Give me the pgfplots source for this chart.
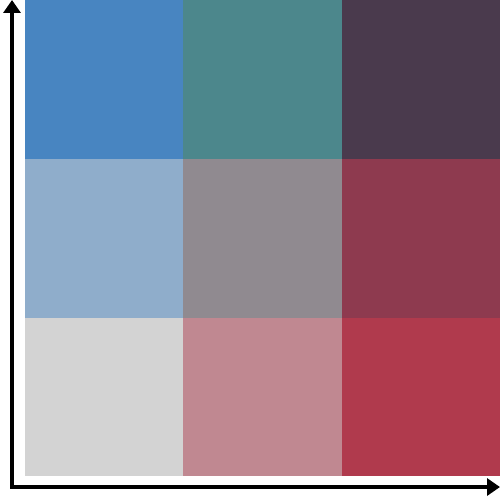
\documentclass[border=0pt]{standalone}
\usepackage{pgfplots}
\pgfplotsset{compat=1.18}
\usetikzlibrary{arrows.meta}
\definecolor{c11}{RGB}{211,211,211}
\definecolor{c21}{RGB}{192,136,145}
\definecolor{c31}{RGB}{176,58,77}
\definecolor{c12}{RGB}{143,173,203}
\definecolor{c22}{RGB}{144,138,144}
\definecolor{c32}{RGB}{142,58,79}
\definecolor{c13}{RGB}{72,133,193}
\definecolor{c23}{RGB}{76,135,140}
\definecolor{c33}{RGB}{74,58,77}
\begin{document}
\begin{tikzpicture}
\begin{axis}[
  width=475pt, height=475pt, scale only axis,
  xmin=0, xmax=3, ymin=0, ymax=3,
  axis lines=none, clip=false,
]
\addplot[fill=c11, draw=c11, line width=0.3pt] coordinates {(0,0)(1,0)(1,1)(0,1)} -- cycle;
\addplot[fill=c21, draw=c21, line width=0.3pt] coordinates {(1,0)(2,0)(2,1)(1,1)} -- cycle;
\addplot[fill=c31, draw=c31, line width=0.3pt] coordinates {(2,0)(3,0)(3,1)(2,1)} -- cycle;
\addplot[fill=c12, draw=c12, line width=0.3pt] coordinates {(0,1)(1,1)(1,2)(0,2)} -- cycle;
\addplot[fill=c22, draw=c22, line width=0.3pt] coordinates {(1,1)(2,1)(2,2)(1,2)} -- cycle;
\addplot[fill=c32, draw=c32, line width=0.3pt] coordinates {(2,1)(3,1)(3,2)(2,2)} -- cycle;
\addplot[fill=c13, draw=c13, line width=0.3pt] coordinates {(0,2)(1,2)(1,3)(0,3)} -- cycle;
\addplot[fill=c23, draw=c23, line width=0.3pt] coordinates {(1,2)(2,2)(2,3)(1,3)} -- cycle;
\addplot[fill=c33, draw=c33, line width=0.3pt] coordinates {(2,2)(3,2)(3,3)(2,3)} -- cycle;
\addplot[black, line width=4pt, line join=miter,
  {Triangle[length=13pt,width=17pt]}-{Triangle[length=13pt,width=17pt]}]
  coordinates {(-0.082,3)(-0.082,-0.076)(3,-0.076)};
\end{axis}
\pgfresetboundingbox
\path (current axis.south west) ++(-25pt,-25pt) rectangle (current axis.north east);
\end{tikzpicture}
\end{document}
